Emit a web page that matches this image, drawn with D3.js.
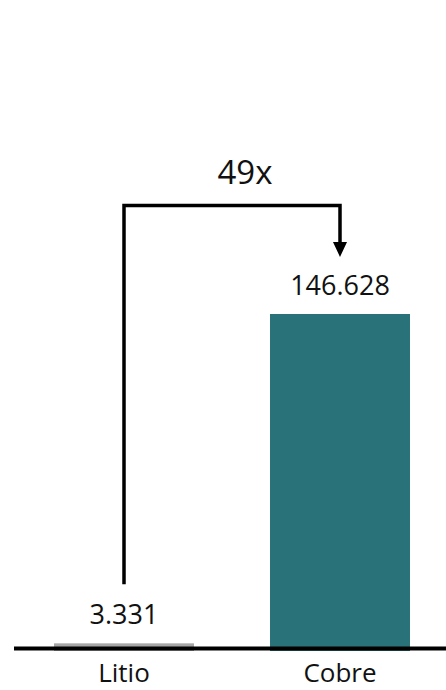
<!DOCTYPE html>
<html>
<head>
<meta charset="utf-8">
<script src="https://cdn.jsdelivr.net/npm/d3@7/dist/d3.min.js"></script>
<style>
  html, body { margin: 0; padding: 0; background: #ffffff; }
  svg { display: block; }
  text { font-family: "Open Sans", "Noto Sans", sans-serif; fill: #111111; }
</style>
</head>
<body>
<svg id="chart" width="446" height="690"></svg>
<script>
const categories = ["Litio", "Cobre"];
const values = [3331, 146628];
const valueLabels = ["3.331", "146.628"];
const colors = ["#a6a6a6", "#29727a"];
const ratioLabel = "49x";

const W = 446, H = 690;
const svg = d3.select("#chart");

const x = d3.scaleBand()
  .domain(categories)
  .range([16, 448])
  .paddingInner(0.352)
  .paddingOuter(0.176);

const y = d3.scaleLinear()
  .domain([0, d3.max(values)])
  .range([651, 314]);

// bars
svg.append("g").selectAll("rect")
  .data(categories)
  .join("rect")
  .attr("x", d => x(d))
  .attr("width", x.bandwidth())
  .attr("y", (d, i) => y(values[i]))
  .attr("height", (d, i) => y(0) - y(values[i]))
  .attr("fill", (d, i) => colors[i]);

// value labels
svg.append("g").selectAll("text")
  .data(categories)
  .join("text")
  .attr("x", d => x(d) + x.bandwidth() / 2)
  .attr("y", (d, i) => y(values[i]) - 19.5)
  .attr("text-anchor", "middle")
  .attr("font-size", 27)
  .text((d, i) => valueLabels[i]);

// x axis
const axis = svg.append("g")
  .attr("transform", "translate(0,648.5)")
  .call(d3.axisBottom(x).tickSize(0).tickPadding(0));
axis.select(".domain").remove();
axis.append("line")
  .attr("x1", 14).attr("x2", 446)
  .attr("y1", 0).attr("y2", 0)
  .attr("stroke", "#000").attr("stroke-width", 4);
axis.selectAll(".tick text")
  .attr("font-size", 26)
  .attr("dy", 0)
  .attr("y", 33.5)
  .attr("fill", "#111")
  .style("font-family", "'Open Sans', 'Noto Sans', sans-serif");

// bracket arrow
const x0 = x(categories[0]) + x.bandwidth() / 2;
const x1 = x(categories[1]) + x.bandwidth() / 2;
const yStart = y(values[0]) - 59;
const yTop = 205.5;
const yTip = y(values[1]) - 57;
const headH = 15, headW = 14;

svg.append("path")
  .attr("d", d3.line()([[x0, yStart], [x0, yTop], [x1, yTop], [x1, yTip - headH + 1]]))
  .attr("fill", "none")
  .attr("stroke", "#000")
  .attr("stroke-width", 3.5)
  .attr("stroke-linejoin", "miter");

svg.append("path")
  .attr("d", d3.line()([[x1 - headW / 2, yTip - headH], [x1 + headW / 2, yTip - headH], [x1, yTip]]) + "Z")
  .attr("fill", "#000");

svg.append("text")
  .attr("x", 245)
  .attr("y", 184)
  .attr("text-anchor", "middle")
  .attr("font-size", 33)
  .text(ratioLabel);
</script>
</body>
</html>
